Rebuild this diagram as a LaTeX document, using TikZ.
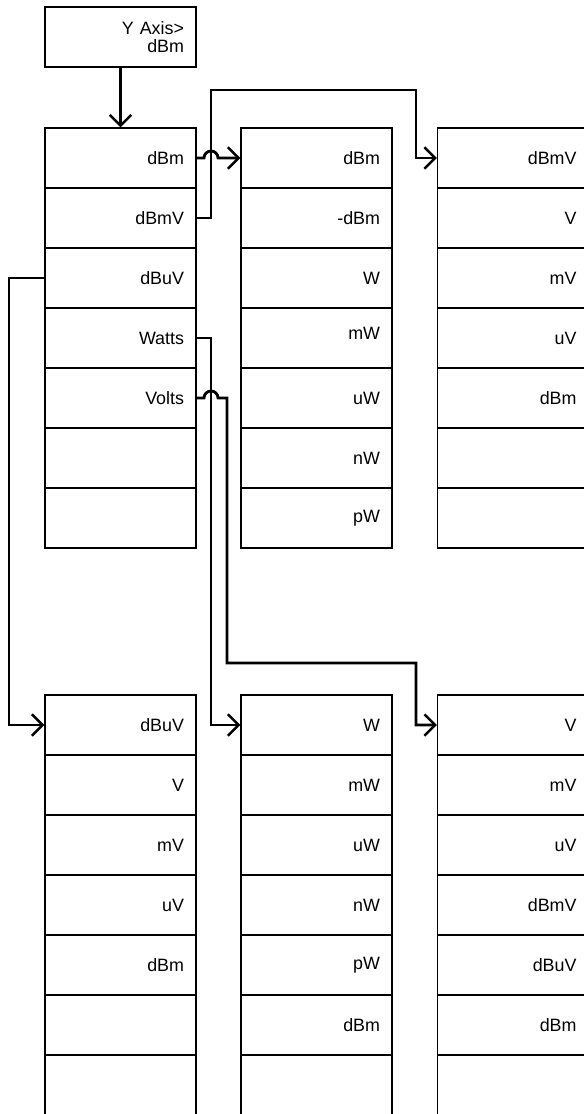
\documentclass[tikz,border=0pt]{standalone}
\usepackage{fontspec}
\setmainfont{Liberation Sans}
\usetikzlibrary{arrows.meta}

\tikzset{
  cell/.style={draw,line width=1.1pt,minimum width=113.25pt,minimum height=45pt,
    inner xsep=9pt,inner ysep=0pt,text width=95.25pt,align=right,
    font=\fontsize{13.4}{13.8}\selectfont},
  link/.style={line width=2.1pt,->}
}

\begin{document}
\begin{tikzpicture}[x=0.75pt,y=0.75pt,>={Straight Barb[length=8pt,width=16pt,line width=1.8pt]}]
  \useasboundingbox (0,0) rectangle (583,-1114);
  \node[cell] (yaxis) at (120.5,-37) {Y Axis>\\dBm};
  % upper menus
  \foreach \lab [count=\i] in {dBm,dBmV,dBuV,Watts,Volts,{},{}}
    \node[cell] (ymenu\i) at (120.5,{-98-60*\i}) {\lab};
  \foreach \lab [count=\i] in {dBm,-dBm,W,{\raisebox{7.5pt}{mW}},uW,nW,pW}
    \node[cell] (dbm\i) at (316.5,{-98-60*\i}) {\lab};
  \foreach \lab [count=\i] in {dBmV,V,mV,uV,dBm,{},{}}
    \node[cell] (dbmv\i) at (513,{-98-60*\i}) {\lab};
  % lower menus
  \foreach \lab [count=\i] in {dBuV,V,mV,uV,dBm,{},{}}
    \node[cell] (dbuv\i) at (120.5,{-665-60*\i}) {\lab};
  \foreach \lab [count=\i] in {W,mW,uW,nW,pW,dBm,{}}
    \node[cell] (watt\i) at (316.5,{-665-60*\i}) {\lab};
  \foreach \lab [count=\i] in {V,mV,uV,dBmV,dBuV,dBm,{}}
    \node[cell] (volt\i) at (513,{-665-60*\i}) {\lab};
  % links
  \draw[link] (yaxis.south) -- (ymenu1.north);
  \draw[link] (ymenu1.east) -- (204,-158) arc (180:0:7) -- (dbm1.west);
  \draw[link] (ymenu2.east) -| (211,-90) -| (416,-158) -- (dbmv1.west);
  \draw[link] (ymenu3.west) -| (9,-725) -- (dbuv1.west);
  \draw[link] (ymenu4.east) -| (211,-725) -- (watt1.west);
  \draw[link] (ymenu5.east) -- (204,-398) arc (180:0:7) -| (227,-663) -| (416,-725) -- (volt1.west);
\end{tikzpicture}
\end{document}
